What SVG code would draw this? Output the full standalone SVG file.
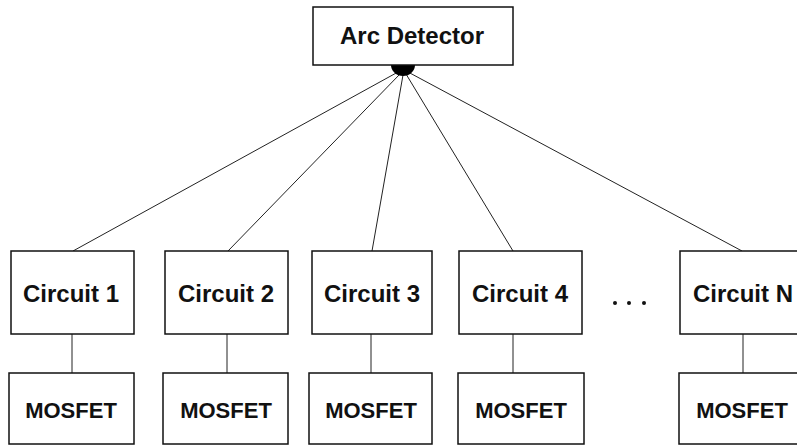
<svg xmlns="http://www.w3.org/2000/svg" width="797" height="447" viewBox="0 0 797 447">
<style>
.box{fill:#fff;stroke:#111;stroke-width:1.5}
.lbl{font-family:"Liberation Sans",Arial,sans-serif;font-weight:bold;font-size:24px;fill:#111;text-anchor:middle}
.mos{font-family:"Liberation Sans",Arial,sans-serif;font-weight:bold;font-size:22px;fill:#111;text-anchor:middle}
.ln{stroke:#222;stroke-width:1;fill:none}
</style>
<rect width="797" height="447" fill="#fff"/>
<g id="connectors">
<line class="ln" x1="398" y1="72" x2="73" y2="251"/>
<line class="ln" x1="400" y1="74" x2="228" y2="251"/>
<line class="ln" x1="403" y1="75" x2="372" y2="251"/>
<line class="ln" x1="406" y1="74" x2="513" y2="251"/>
<line class="ln" x1="408" y1="72" x2="742" y2="251"/>
<line class="ln" x1="72" y1="334" x2="72" y2="373"/>
<line class="ln" x1="227" y1="334" x2="227" y2="373"/>
<line class="ln" x1="371" y1="334" x2="371" y2="373"/>
<line class="ln" x1="513" y1="334" x2="513" y2="373"/>
<line class="ln" x1="743" y1="334" x2="743" y2="373"/>
<path d="M391,65 A12,11 0 0 0 415,65 Z" fill="#000"/>
</g>
<g id="arc-detector">
<rect class="box" x="313" y="7" width="200" height="58"/>
<text class="lbl" x="412" y="44">Arc Detector</text>
</g>
<g id="circuit-1">
<rect class="box" x="11" y="251" width="123" height="83"/>
<text class="lbl" x="71" y="302">Circuit 1</text>
</g>
<g id="circuit-2">
<rect class="box" x="165" y="251" width="123" height="83"/>
<text class="lbl" x="226" y="302">Circuit 2</text>
</g>
<g id="circuit-3">
<rect class="box" x="312" y="251" width="120" height="83"/>
<text class="lbl" x="372" y="302">Circuit 3</text>
</g>
<g id="circuit-4">
<rect class="box" x="459" y="251" width="123" height="83"/>
<text class="lbl" x="520" y="302">Circuit 4</text>
</g>
<g id="ellipsis">
<circle cx="615" cy="303" r="2" fill="#111"/>
<circle cx="629" cy="303" r="2" fill="#111"/>
<circle cx="644" cy="303" r="2" fill="#111"/>
</g>
<g id="circuit-n">
<rect class="box" x="680" y="251" width="125" height="83"/>
<text class="lbl" x="743" y="302">Circuit N</text>
</g>
<g id="mosfet-1">
<rect class="box" x="9" y="373" width="125" height="71"/>
<text class="mos" x="71" y="418">MOSFET</text>
</g>
<g id="mosfet-2">
<rect class="box" x="163" y="373" width="125" height="71"/>
<text class="mos" x="226" y="418">MOSFET</text>
</g>
<g id="mosfet-3">
<rect class="box" x="309" y="373" width="123" height="71"/>
<text class="mos" x="371" y="418">MOSFET</text>
</g>
<g id="mosfet-4">
<rect class="box" x="458" y="373" width="126" height="71"/>
<text class="mos" x="521" y="418">MOSFET</text>
</g>
<g id="mosfet-n">
<rect class="box" x="679" y="373" width="126" height="71"/>
<text class="mos" x="742" y="418">MOSFET</text>
</g>
</svg>
